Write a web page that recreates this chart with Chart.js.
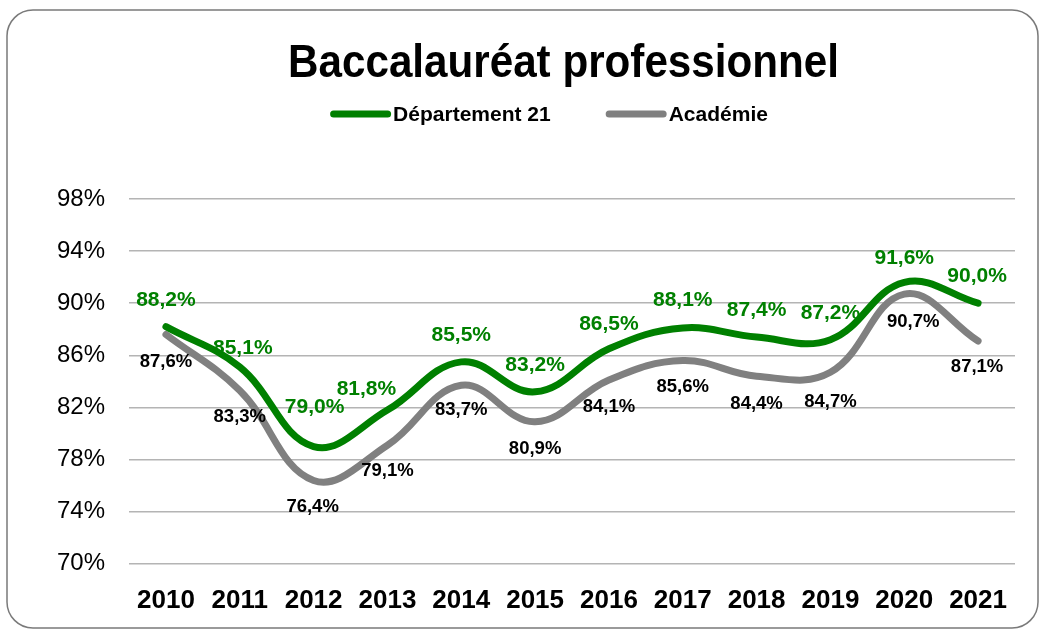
<!DOCTYPE html>
<html>
<head>
<meta charset="utf-8">
<script src="https://cdn.jsdelivr.net/npm/chart.js@4/dist/chart.umd.min.js"></script>
<style>
html,body{margin:0;padding:0;background:#fff;}
#wrap{position:absolute;left:0;top:0;width:1044px;height:634px;}
</style>
</head>
<body>
<div id="wrap"><canvas id="c" width="1044" height="634"></canvas></div>
<script>
const categories = ['2010','2011','2012','2013','2014','2015','2016','2017','2018','2019','2020','2021'];
const departement21 = [88.2, 85.1, 79.0, 81.8, 85.5, 83.2, 86.5, 88.1, 87.4, 87.2, 91.6, 90.0];
const academie = [87.6, 83.3, 76.4, 79.1, 83.7, 80.9, 84.1, 85.6, 84.4, 84.7, 90.7, 87.1];
const yTicks = [70, 74, 78, 82, 86, 90, 94, 98];
const seriesNames = ['Département 21', 'Académie'];
const chartTitle = 'Baccalauréat professionnel';

// label placement styles (pixel offsets from each point)
const greenLabelDy = [-26,-19,-39,-21,-27,-27,-25,-28,-27,-27,-24,-27];
const greenLabelDx = [0,3,1,-21,0,0,0,0,0,0,0,-1];
const greyLabelDy = [27,26,26,26,25,27,27,26,28,30,28,26];
const greyLabelDx = [0,0,-1,0,0,0,0,0,0,0,9,-1];

const GREEN = '#008000';
const GREY = '#808080';
const FONT = '"Liberation Sans", Arial, sans-serif';

function fmt(v){ return v.toFixed(1).replace('.', ',') + '%'; }

const framePlugin = {
  id: 'frame',
  beforeDraw(chart){
    const ctx = chart.ctx;
    ctx.save();
    ctx.fillStyle = '#fff';
    ctx.fillRect(0,0,chart.width,chart.height);
    const x=7, y=10, w=1031, h=618, r=26;
    ctx.beginPath();
    ctx.moveTo(x+r,y);
    ctx.lineTo(x+w-r,y);
    ctx.arcTo(x+w,y,x+w,y+r,r);
    ctx.lineTo(x+w,y+h-r);
    ctx.arcTo(x+w,y+h,x+w-r,y+h,r);
    ctx.lineTo(x+r,y+h);
    ctx.arcTo(x,y+h,x,y+h-r,r);
    ctx.lineTo(x,y+r);
    ctx.arcTo(x,y,x+r,y,r);
    ctx.closePath();
    ctx.strokeStyle = '#7a7a7a';
    ctx.lineWidth = 1.5;
    ctx.stroke();
    ctx.restore();
  }
};

// title and legend drawn like the original
const headerPlugin = {
  id: 'header',
  afterDraw(chart){
    const ctx = chart.ctx;
    ctx.save();
    // title (slightly condensed bold, as in the source)
    ctx.font = 'bold 46px ' + FONT;
    ctx.fillStyle = '#000';
    ctx.textBaseline = 'alphabetic';
    ctx.textAlign = 'center';
    ctx.save();
    ctx.translate(563.5, 77);
    ctx.scale(0.917, 1);
    ctx.fillText(chartTitle, 0, 0);
    ctx.restore();

    // legend: thick line sample immediately followed by bold text
    ctx.font = 'bold 21px ' + FONT;
    ctx.textBaseline = 'middle';
    ctx.textAlign = 'left';
    const sampleLen = 54, capPad = 3.5, textGap = 2, itemGap = 55, cy = 114;
    const items = chart.data.datasets.map(d => ({text: d.label, color: d.borderColor, w: ctx.measureText(d.label).width}));
    let total = 0;
    items.forEach((it,i)=>{ total += capPad*2 + sampleLen + textGap + it.w + (i ? itemGap : 0); });
    let x = 549 - total/2;
    items.forEach((it,i)=>{
      if (i) x += itemGap;
      ctx.strokeStyle = it.color;
      ctx.lineWidth = 7;
      ctx.lineCap = 'round';
      ctx.beginPath();
      ctx.moveTo(x + capPad, cy);
      ctx.lineTo(x + capPad + sampleLen, cy);
      ctx.stroke();
      x += capPad*2 + sampleLen + textGap;
      ctx.fillStyle = '#000';
      ctx.fillText(it.text, x, cy + 1);
      x += it.w;
    });
    ctx.restore();
  }
};

const labelPlugin = {
  id: 'valueLabels',
  afterDatasetsDraw(chart){
    const ctx = chart.ctx;
    ctx.save();
    ctx.textAlign = 'center';
    ctx.textBaseline = 'middle';
    const m0 = chart.getDatasetMeta(0);
    ctx.font = 'bold 21px ' + FONT;
    ctx.fillStyle = GREEN;
    m0.data.forEach((p,i)=>{
      ctx.fillText(fmt(departement21[i]), p.x + greenLabelDx[i], p.y + greenLabelDy[i]);
    });
    const m1 = chart.getDatasetMeta(1);
    ctx.font = 'bold 18.5px ' + FONT;
    ctx.fillStyle = '#000';
    m1.data.forEach((p,i)=>{
      ctx.fillText(fmt(academie[i]), p.x + greyLabelDx[i], p.y + greyLabelDy[i]);
    });
    ctx.restore();
  }
};

new Chart(document.getElementById('c'), {
  type: 'line',
  data: {
    labels: categories,
    datasets: [
      {label: seriesNames[0], data: departement21, xAxisID: 'x', yAxisID: 'y', borderColor: GREEN, backgroundColor: GREEN,
       borderWidth: 7, tension: 0.4, pointRadius: 0, borderCapStyle: 'round', borderJoinStyle: 'round', fill: false},
      {label: seriesNames[1], data: academie, xAxisID: 'x', yAxisID: 'y', borderColor: GREY, backgroundColor: GREY,
       borderWidth: 7, tension: 0.4, pointRadius: 0, borderCapStyle: 'round', borderJoinStyle: 'round', fill: false}
    ]
  },
  options: {
    responsive: false,
    animation: false,
    layout: {padding: {top: 32, left: 33, right: 29, bottom: 20}},
    plugins: {
      title: {display: false},
      legend: {display: false},
      tooltip: {enabled: false}
    },
    scales: {
      x: {
        offset: true,
        grid: {display: false, drawTicks: false},
        border: {display: false},
        ticks: {color: '#000', font: {family: FONT, size: 26, weight: 'bold'}, padding: 21, maxRotation: 0},
        afterFit(scale){ scale.height -= 23; }
      },
      spacer: {
        type: 'category', position: 'top', display: true, labels: [''],
        grid: {display: false, drawTicks: false}, border: {display: false},
        ticks: {display: false},
        afterFit(scale){ scale.height = 167; }
      },
      y: {
        min: 70, max: 98,
        afterBuildTicks(scale){ scale.ticks = yTicks.map(v=>({value: v})); },
        grid: {color: '#b4b4b4', lineWidth: 1.5, drawTicks: false},
        border: {display: false},
        ticks: {color: '#000', font: {family: FONT, size: 24}, padding: 24, callback: v => v + '%'}
      }
    }
  },
  plugins: [framePlugin, labelPlugin, headerPlugin]
});
</script>
</body>
</html>
